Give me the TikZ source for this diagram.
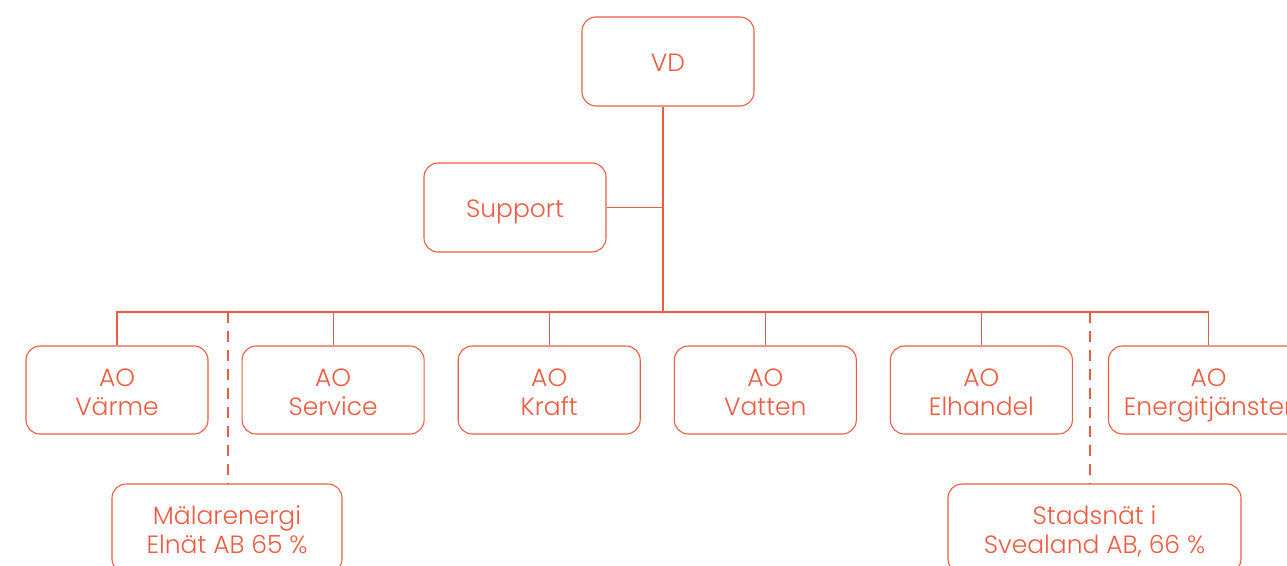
\documentclass[tikz,border=0pt]{standalone}
\usepackage{fontspec}
\setmainfont{Poppins}[UprightFont={* Light}]
\usepackage{xcolor}
\usepackage{tikz}
\usetikzlibrary{positioning}
\definecolor{mered}{RGB}{238,90,66}

\begin{document}
\begin{tikzpicture}[x=1pt,y=-1pt]
      \tikzstyle{unit}=[draw=mered, line width=1.1pt, text=mered, rounded corners=14pt, align=center,
                        minimum width=182pt, minimum height=88pt, inner sep=0pt,
                        text height=50pt, text depth=0pt, font=\fontsize{25}{29}\selectfont]
      \tikzstyle{single}=[unit, text height=20pt, minimum height=89pt]
      \tikzstyle{link}=[draw=mered, line width=1.1pt]
      \tikzstyle{owned}=[link, dash pattern=on 11pt off 8pt]

      \useasboundingbox (0,0) rectangle (1287,565);

      % top
      \node [single, minimum width=172pt] (VD) at (668,61.5) {VD};
      \node [single] (Support) at (515,207.5) {Support};

      % business areas
      \node [unit] (Varme) at (117,390) {AO\\Värme};
      \node [unit] (Service) [right=33pt of Varme] {AO\\Service};
      \node [unit] (Kraft) [right=33pt of Service] {AO\\Kraft};
      \node [unit] (Vatten) [right=33pt of Kraft] {AO\\Vatten};
      \node [unit] (Elhandel) [right=33pt of Vatten] {AO\\Elhandel};
      \node [unit, minimum width=200pt] (Energi) [right=35pt of Elhandel] {AO\\Energitjänster};

      % subsidiaries
      \node [unit, minimum width=230pt, minimum height=89pt] (Elnat) at (227,528.5) {Mälarenergi\\Elnät AB 65 \%};
      \node [unit, minimum width=293pt, minimum height=89pt] (Stadsnat) at (1094.5,528.5) {Stadsnät i\\Svealand AB, 66 \%};

      \coordinate (trunk) at (663,312);
      \coordinate (dashL) at (228,312);
      \coordinate (dashR) at (1090,312);

      \draw [link] (VD.south -| trunk) -- (trunk);
      \draw [link] (Support.east) -- (Support.east -| trunk);
      \draw [link] (Varme.north) |- (trunk) -| (Energi.north);
      \foreach \ao in {Service,Kraft,Vatten,Elhandel}
        \draw [link] (\ao.north) -- (\ao.north |- trunk);

      \draw [owned] (dashL) -- (dashL |- Elnat.north);
      \draw [owned] (dashR) -- (dashR |- Stadsnat.north);

    \end{tikzpicture}
\end{document}
